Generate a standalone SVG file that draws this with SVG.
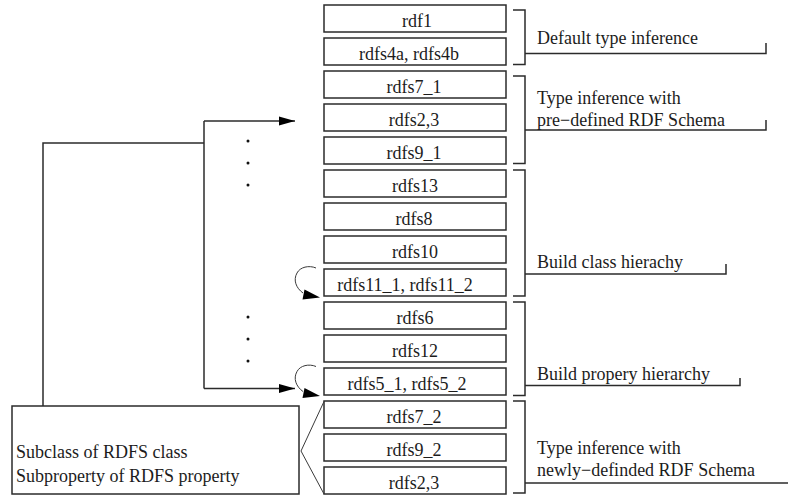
<svg xmlns="http://www.w3.org/2000/svg" width="788" height="495" viewBox="0 0 788 495">
  <style>
    .box { fill: #ffffff; stroke: #2b2b2b; stroke-width: 1.5; }
    .ln { fill: none; stroke: #2b2b2b; stroke-width: 1.5; }
    .thin { fill: none; stroke: #3a3a3a; stroke-width: 1; }
    .t { font-family: "Liberation Serif", "Times New Roman", serif; font-size: 18px; fill: #1c1c1c; }
    .c { text-anchor: middle; }
    .head { fill: #000000; }
    .dot { fill: #111111; }
  </style>
  <defs>
    <marker id="arrow" markerUnits="userSpaceOnUse" markerWidth="16" markerHeight="10" refX="16" refY="5" orient="auto">
      <path d="M0,0.5 L16,5 L0,9.5 Z" class="head"/>
    </marker>
    <!-- self-loop arrow, drawn relative to the rule box it points at -->
    <g id="loop">
      <path class="thin" d="M316,268 C309,265 300,267 297,273 C293,280 296,288 303,293"/>
      <path class="head" d="M320,297.5 L304.5,289.5 L302.5,299.5 Z"/>
    </g>
  </defs>

  <!-- rule boxes -->
  <g id="n-rdf1"><rect class="box" x="324" y="5" width="182" height="27"/><text class="t c" x="417" y="27">rdf1</text></g>
  <g id="n-rdfs4"><rect class="box" x="324" y="38" width="182" height="27"/><text class="t c" x="409" y="60">rdfs4a, rdfs4b</text></g>
  <g id="n-rdfs7-1"><rect class="box" x="324" y="71" width="182" height="27"/><text class="t c" x="414" y="93">rdfs7_1</text></g>
  <g id="n-rdfs2-3a"><rect class="box" x="324" y="104" width="182" height="27"/><text class="t c" x="414" y="126">rdfs2,3</text></g>
  <g id="n-rdfs9-1"><rect class="box" x="324" y="137" width="182" height="27"/><text class="t c" x="414" y="159">rdfs9_1</text></g>
  <g id="n-rdfs13"><rect class="box" x="324" y="170" width="182" height="27"/><text class="t c" x="415" y="192">rdfs13</text></g>
  <g id="n-rdfs8"><rect class="box" x="324" y="203" width="182" height="27"/><text class="t c" x="414" y="225">rdfs8</text></g>
  <g id="n-rdfs10"><rect class="box" x="324" y="236" width="182" height="27"/><text class="t c" x="415" y="258">rdfs10</text></g>
  <g id="n-rdfs11"><rect class="box" x="324" y="269" width="182" height="27"/><text class="t c" x="405" y="291">rdfs11_1, rdfs11_2</text></g>
  <g id="n-rdfs6"><rect class="box" x="324" y="302" width="182" height="27"/><text class="t c" x="415" y="324">rdfs6</text></g>
  <g id="n-rdfs12"><rect class="box" x="324" y="335" width="182" height="27"/><text class="t c" x="415" y="357">rdfs12</text></g>
  <g id="n-rdfs5"><rect class="box" x="324" y="368" width="182" height="27"/><text class="t c" x="407" y="390">rdfs5_1, rdfs5_2</text></g>
  <g id="n-rdfs7-2"><rect class="box" x="324" y="401" width="182" height="27"/><text class="t c" x="414" y="423">rdfs7_2</text></g>
  <g id="n-rdfs9-2"><rect class="box" x="324" y="434" width="182" height="27"/><text class="t c" x="414" y="456">rdfs9_2</text></g>
  <g id="n-rdfs2-3b"><rect class="box" x="324" y="467" width="182" height="27"/><text class="t c" x="414" y="489">rdfs2,3</text></g>

  <!-- source box -->
  <g id="n-sub">
    <rect class="box" x="12" y="406" width="287" height="88"/>
    <text class="t" x="16" y="458">Subclass of RDFS class</text>
    <text class="t" x="16" y="482">Subproperty of RDFS property</text>
  </g>

  <!-- group brackets and labels -->
  <g id="g-default">
    <path class="ln" d="M513,10 H525 V64.5 H513"/>
    <path class="ln" d="M525,53.5 H766 V43"/>
    <text class="t" x="537" y="44">Default type inference</text>
  </g>
  <g id="g-predef">
    <path class="ln" d="M513,76 H525 V163.5 H513"/>
    <path class="ln" d="M525,130 H766 V120"/>
    <text class="t" x="537" y="104">Type inference with</text>
    <text class="t" x="537" y="126">pre−defined RDF Schema</text>
  </g>
  <g id="g-class">
    <path class="ln" d="M513,170 H525 V296 H513"/>
    <path class="ln" d="M525,274 H726 V264"/>
    <text class="t" x="537" y="268">Build class hierachy</text>
  </g>
  <g id="g-prop">
    <path class="ln" d="M513,302 H525 V395.5 H513"/>
    <path class="ln" d="M525,385.5 H740 V378"/>
    <text class="t" x="537" y="380">Build propery hierarchy</text>
  </g>
  <g id="g-newdef">
    <path class="ln" d="M513,401 H525 V493 H513"/>
    <path class="ln" d="M525,483 H788"/>
    <text class="t" x="537" y="454">Type inference with</text>
    <text class="t" x="537" y="476">newly−definded RDF Schema</text>
  </g>

  <!-- connectors -->
  <g id="connectors">
    <path class="ln" d="M43,406 V143 H204"/>
    <path class="ln" d="M204,121 V388.5"/>
    <path class="ln" d="M204,121 H295" marker-end="url(#arrow)"/>
    <path class="ln" d="M204,388.5 H295" marker-end="url(#arrow)"/>
    <use href="#loop"/>
    <use href="#loop" transform="translate(0,98.5)"/>
    <path class="thin" d="M324,401.5 L301,451 L324,494"/>
    <circle class="dot" cx="248" cy="141" r="1.5"/>
    <circle class="dot" cx="248" cy="163" r="1.5"/>
    <circle class="dot" cx="248" cy="185" r="1.5"/>
    <circle class="dot" cx="248" cy="317" r="1.5"/>
    <circle class="dot" cx="248" cy="339" r="1.5"/>
    <circle class="dot" cx="248" cy="361" r="1.5"/>
  </g>
</svg>
